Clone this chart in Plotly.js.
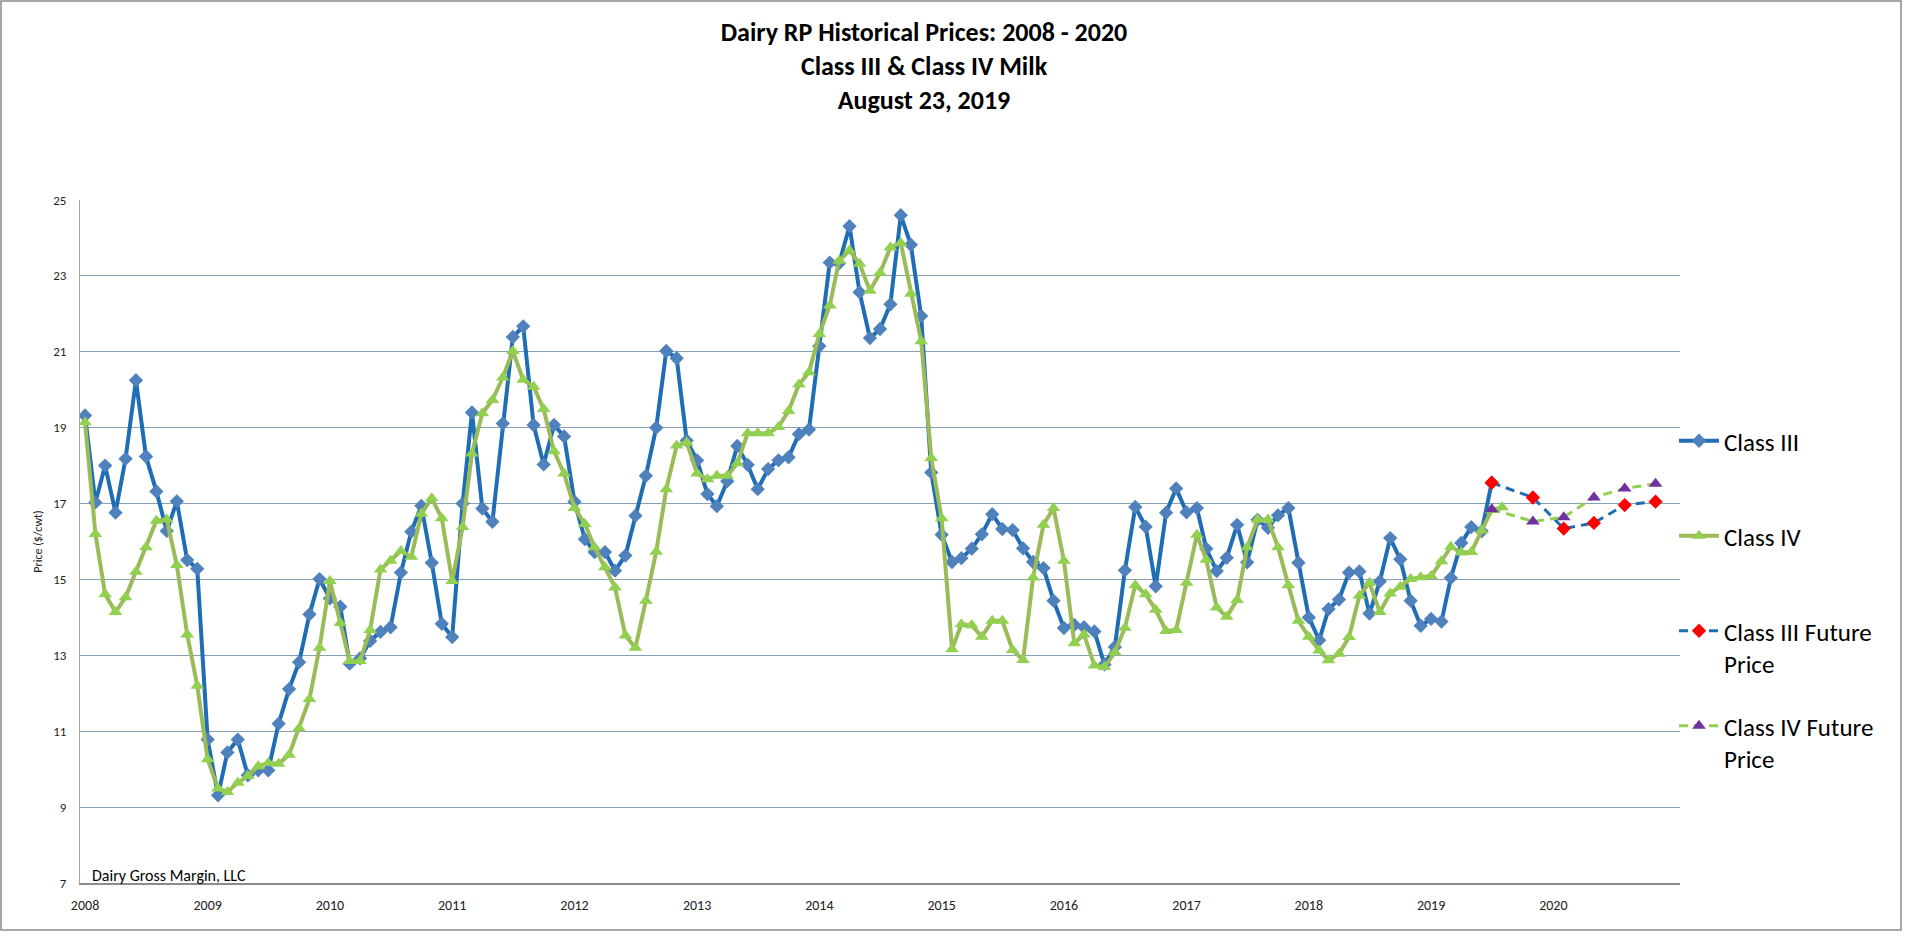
<!DOCTYPE html>
<html>
<head>
<meta charset="utf-8">
<script src="https://cdn.plot.ly/plotly-3.0.1.min.js"></script>
<style>
  html, body { margin: 0; padding: 0; background: #fff; }
  #chart { width: 1920px; height: 950px; }
</style>
</head>
<body>
<div id="chart"></div>
<script>
// monthly settle prices, $/cwt, first point = Jan 2008
const FIRST_MONTH = [2008, 1];

const classIII = [
  19.32, 17.03, 18.00, 16.76, 18.18, 20.25, 18.24, 17.32, 16.28, 17.06, 15.51, 15.28,
  10.78, 9.31, 10.44, 10.78, 9.84, 9.97, 9.97, 11.20, 12.11, 12.82, 14.08, 15.01,
  14.50, 14.28, 12.78, 12.92, 13.38, 13.62, 13.74, 15.18, 16.26, 16.94, 15.44, 13.83,
  13.48, 17.00, 19.40, 16.87, 16.52, 19.11, 21.39, 21.67, 19.07, 18.03, 19.07, 18.77,
  17.05, 16.06, 15.72, 15.72, 15.23, 15.63, 16.68, 17.73, 19.00, 21.02, 20.83, 18.66,
  18.14, 17.25, 16.93, 17.59, 18.52, 18.02, 17.38, 17.91, 18.14, 18.22, 18.83, 18.95,
  21.15, 23.35, 23.33, 24.31, 22.57, 21.36, 21.60, 22.25, 24.60, 23.82, 21.94, 17.82,
  16.18, 15.46, 15.56, 15.81, 16.19, 16.72, 16.33, 16.30, 15.82, 15.46, 15.30, 14.44,
  13.72, 13.80, 13.74, 13.63, 12.76, 13.22, 15.24, 16.91, 16.39, 14.82, 16.76, 17.40,
  16.77, 16.88, 15.81, 15.22, 15.57, 16.44, 15.45, 16.57, 16.36, 16.69, 16.88, 15.44,
  14.00, 13.40, 14.22, 14.47, 15.18, 15.21, 14.10, 14.95, 16.09, 15.53, 14.44, 13.78,
  13.96, 13.89, 15.04, 15.96, 16.38, 16.27, 17.55,
];

const classIV = [
  19.14, 16.20, 14.61, 14.14, 14.53, 15.20, 15.85, 16.55, 16.58, 15.38, 13.55, 12.20,
  10.26, 9.49, 9.40, 9.64, 9.82, 10.08, 10.16, 10.14, 10.38, 11.08, 11.85, 13.20,
  14.96, 13.85, 12.85, 12.85, 13.67, 15.26, 15.49, 15.75, 15.60, 16.73, 17.14, 16.61,
  14.96, 16.38, 18.32, 19.38, 19.73, 20.32, 21.02, 20.26, 20.08, 19.49, 18.38, 17.79,
  16.88, 16.46, 15.85, 15.32, 14.79, 13.52, 13.20, 14.44, 15.73, 17.38, 18.53, 18.61,
  17.79, 17.64, 17.73, 17.73, 18.06, 18.85, 18.85, 18.85, 19.02, 19.44, 20.14, 20.46,
  21.47, 22.22, 23.40, 23.67, 23.32, 22.61, 23.08, 23.75, 23.87, 22.53, 21.28, 18.20,
  16.61, 13.16, 13.82, 13.79, 13.49, 13.91, 13.91, 13.14, 12.88, 15.05, 16.44, 16.88,
  15.49, 13.32, 13.55, 12.73, 12.69, 13.08, 13.73, 14.85, 14.61, 14.20, 13.64, 13.67,
  14.91, 16.18, 15.52, 14.26, 14.02, 14.46, 15.85, 16.58, 16.58, 15.85, 14.85, 13.91,
  13.49, 13.13, 12.87, 13.04, 13.48, 14.57, 14.91, 14.14, 14.63, 14.81, 15.01, 15.06,
  15.09, 15.48, 15.86, 15.71, 15.72, 16.29, 16.83, 16.90,
];

// futures: last settled month, then quarter midpoints
const futureDates = ['2019-07-01', '2019-11-01', '2020-02-01', '2020-05-01', '2020-08-01', '2020-11-01'];
const classIIIFuture = [17.55, 17.16, 16.34, 16.49, 16.96, 17.05];
const classIVFuture = [16.85, 16.53, 16.64, 17.16, 17.40, 17.52];

const yearTicks = ['2008', '2009', '2010', '2011', '2012', '2013', '2014',
                   '2015', '2016', '2017', '2018', '2019', '2020'];

const FONT = 'Carlito, Lato, sans-serif';

const COLORS = {
  c3Line: '#1f6db4',
  c3Marker: '#4f81bd',
  c4Line: '#9bbb59',
  c4Marker: '#92d050',
  c3FutMarker: '#ff0000',
  c4FutMarker: '#7030a0',
  grid: '#86a0b8',
  axis: '#8c8c8c',
};

function monthDates(n) {
  const out = [];
  for (let i = 0; i < n; i++) {
    const m = FIRST_MONTH[1] - 1 + i;
    const y = FIRST_MONTH[0] + Math.floor(m / 12);
    const mm = String((m % 12) + 1).padStart(2, '0');
    out.push(y + '-' + mm + '-01');
  }
  return out;
}

const traces = [
  {
    type: 'scatter', mode: 'lines+markers',
    name: 'Class III<br> ', legendgroup: 'a',
    x: monthDates(classIII.length), y: classIII,
    line: { color: COLORS.c3Line, width: 4 },
    marker: { symbol: 'diamond', size: 11, color: COLORS.c3Marker },
  },
  {
    type: 'scatter', mode: 'lines+markers',
    name: 'Class IV<br> ', legendgroup: 'b',
    x: monthDates(classIV.length), y: classIV,
    line: { color: COLORS.c4Line, width: 4 },
    marker: { symbol: 'triangle-up', size: 12, color: COLORS.c4Marker },
  },
  {
    type: 'scatter', mode: 'lines+markers',
    name: 'Class III Future<br>Price', legendgroup: 'c',
    x: futureDates, y: classIIIFuture,
    line: { color: COLORS.c3Line, width: 3, dash: '9px,6px' },
    marker: { symbol: 'diamond', size: 11, color: COLORS.c3FutMarker },
  },
  {
    type: 'scatter', mode: 'lines+markers',
    name: 'Class IV Future<br>Price', legendgroup: 'd',
    x: futureDates, y: classIVFuture,
    line: { color: COLORS.c4Marker, width: 3, dash: '9px,6px' },
    marker: { symbol: 'triangle-up', size: 12, color: COLORS.c4FutMarker },
  },
];

const layout = {
  width: 1920,
  height: 950,
  paper_bgcolor: '#fff',
  plot_bgcolor: '#fff',
  font: { family: FONT, color: '#000' },
  margin: { l: 80, r: 240, t: 200, b: 67 },
  title: {
    text: 'Dairy RP Historical Prices: 2008 - 2020<br>Class III & Class IV Milk<br>August 23, 2019',
    font: { family: FONT, size: 26, weight: 'bold', color: '#000' },
    xref: 'container', x: 924 / 1920, xanchor: 'center',
    yref: 'container', y: 1 - 41 / 950, yanchor: 'middle',
  },
  xaxis: {
    type: 'date',
    range: ['2007-12-17', '2021-01-13'],
    tickmode: 'array',
    tickvals: yearTicks.map(y => y + '-01-01'),
    ticktext: yearTicks,
    showgrid: false,
    zeroline: false,
    showline: true,
    linecolor: COLORS.axis,
    linewidth: 1.5,
    ticks: '',
    ticklabelstandoff: 8,
    tickfont: { family: FONT, size: 14, color: '#222' },
  },
  yaxis: {
    range: [7, 25],
    tick0: 7,
    dtick: 2,
    showgrid: true,
    gridcolor: COLORS.grid,
    gridwidth: 1,
    zeroline: false,
    showline: true,
    linecolor: '#a6a6a6',
    linewidth: 1,
    ticks: '',
    ticklabelstandoff: 10,
    tickfont: { family: FONT, size: 13, color: '#222' },
    title: { text: 'Price ($/cwt)', font: { family: FONT, size: 12, color: '#222' }, standoff: 8 },
  },
  showlegend: true,
  legend: {
    x: 1 - 6 / 1600, xanchor: 'left',
    y: 1 - 218 / 683, yanchor: 'top',
    font: { family: FONT, size: 25, color: '#000' },
    itemwidth: 40,
    valign: 'top',
    traceorder: 'grouped',
    tracegroupgap: 27,
    bgcolor: 'rgba(0,0,0,0)',
    borderwidth: 0,
  },
  annotations: [{
    text: 'Dairy Gross Margin, LLC',
    xref: 'paper', yref: 'paper',
    x: 10 / 1600, y: 8 / 683,
    xanchor: 'left', yanchor: 'middle',
    showarrow: false,
    font: { family: FONT, size: 16, color: '#000' },
  }],
  shapes: [{
    type: 'rect', xref: 'paper', yref: 'paper',
    x0: -79 / 1600, x1: 1821 / 1600,
    y0: -47 / 683, y1: 882 / 683,
    line: { color: '#8a8a8a', width: 1.5 },
    layer: 'below',
  }],
};

Plotly.newPlot('chart', traces, layout, { displayModeBar: false, responsive: false });
</script>
</body>
</html>
